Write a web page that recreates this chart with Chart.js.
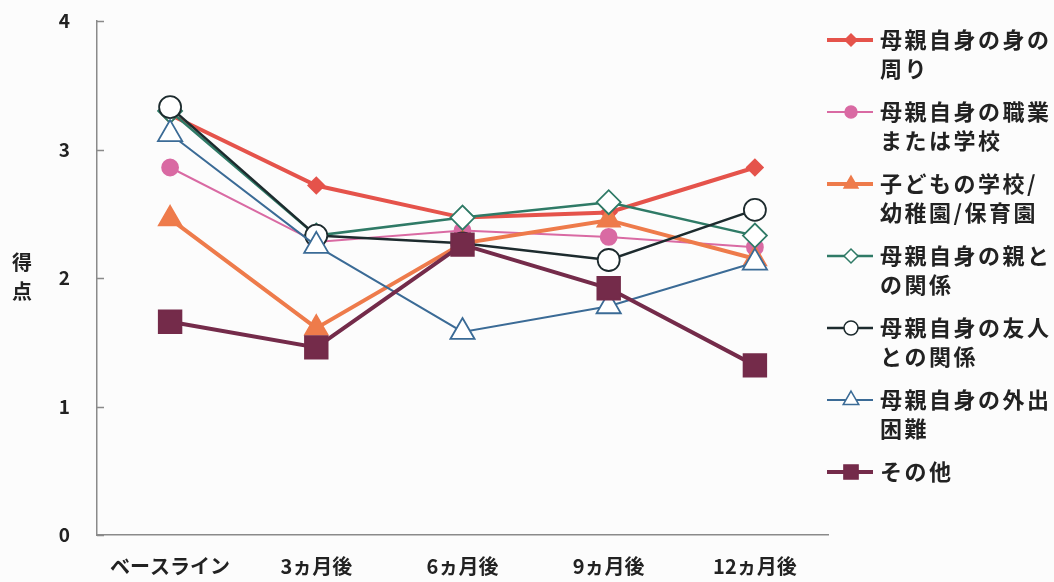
<!DOCTYPE html>
<html>
<head>
<meta charset="utf-8">
<script src="https://cdn.jsdelivr.net/npm/chart.js@4.4.1/dist/chart.umd.min.js"></script>
<style>
  html, body { margin: 0; padding: 0; background: #fcfcfc; }
  #wrap { width: 1054px; height: 582px; position: relative; }
</style>
</head>
<body>
<div id="wrap"><canvas id="c" width="1054" height="582"></canvas></div>
<script>
// ---- data ----
const categories = ['ベースライン', '3ヵ月後', '6ヵ月後', '9ヵ月後', '12ヵ月後'];
const yTicks = [0, 1, 2, 3, 4];
const yTitle = ['得', '点'];

const legendLines1 = ['母親自身の身の', '周り'];
const legendLines2 = ['母親自身の職業', 'または学校'];
const legendLines3 = ['子どもの学校/', '幼稚園/保育園'];
const legendLines4 = ['母親自身の親と', 'の関係'];
const legendLines5 = ['母親自身の友人', 'との関係'];
const legendLines6 = ['母親自身の外出', '困難'];
const legendLines7 = ['その他'];

const selfCare     = [3.27, 2.72, 2.47, 2.51, 2.86];
const selfWork     = [2.86, 2.28, 2.37, 2.32, 2.24];
const childSchool  = [2.46, 1.61, 2.27, 2.45, 2.15];
const parentRel    = [3.30, 2.33, 2.47, 2.59, 2.33];
const friendRel    = [3.33, 2.33, 2.27, 2.14, 2.53];
const goingOut     = [3.12, 2.25, 1.58, 1.78, 2.12];
const others       = [1.66, 1.46, 2.26, 1.92, 1.32];

// ---- styles ----
const FONT = '"Noto Sans CJK JP", "Noto Sans", sans-serif';
const series = [
  { lines: legendLines1, data: selfCare,    color: '#e5534b', width: 4,   style: 'rectRot',  r: 8,  fill: '#e5534b', lr: 6 },
  { lines: legendLines2, data: selfWork,    color: '#d96aa3', width: 2,   style: 'circle',   r: 8,  fill: '#d96aa3', lr: 6 },
  { lines: legendLines3, data: childSchool, color: '#ee7b4b', width: 4,   style: 'triangle', r: 13, fill: '#ee7b4b', lr: 8 },
  { lines: legendLines4, data: parentRel,   color: '#2f7a66', width: 2.5, style: 'rectRot',  r: 12, fill: '#ffffff', lr: 7 },
  { lines: legendLines5, data: friendRel,   color: '#1d2b2e', width: 2.5, style: 'circle',   r: 11, fill: '#ffffff', lr: 7 },
  { lines: legendLines6, data: goingOut,    color: '#3b6b96', width: 2,   style: 'triangle', r: 14, fill: '#ffffff', lr: 9 },
  { lines: legendLines7, data: others,      color: '#742b4a', width: 4,   style: 'rect',     r: 16, fill: '#742b4a', lr: 10 }
];

function drawMarker(ctx, style, x, y, r, fill, stroke, lw) {
  ctx.beginPath();
  if (style === 'circle') {
    ctx.arc(x, y, r, 0, Math.PI * 2);
  } else if (style === 'rectRot') {
    ctx.moveTo(x - r, y); ctx.lineTo(x, y - r); ctx.lineTo(x + r, y); ctx.lineTo(x, y + r);
  } else if (style === 'triangle') {
    for (let k = 0; k < 3; k++) {
      const a = k * 2 * Math.PI / 3;
      const px = x + Math.sin(a) * r, py = y - Math.cos(a) * r;
      if (k === 0) ctx.moveTo(px, py); else ctx.lineTo(px, py);
    }
  } else {
    const s = Math.SQRT1_2 * r;
    ctx.rect(x - s, y - s, 2 * s, 2 * s);
  }
  ctx.closePath();
  ctx.fillStyle = fill; ctx.fill();
  ctx.strokeStyle = stroke; ctx.lineWidth = lw; ctx.stroke();
}

const extras = {
  id: 'extras',
  afterDraw(chart) {
    const ctx = chart.ctx;
    const area = chart.chartArea;
    const ys = chart.scales.y;
    ctx.save();
    // inward y ticks
    ctx.strokeStyle = '#8a8a8a'; ctx.lineWidth = 1.5;
    yTicks.forEach(v => {
      const py = Math.round(ys.getPixelForValue(v)) + 0.5;
      ctx.beginPath(); ctx.moveTo(area.left, py); ctx.lineTo(area.left + 7, py); ctx.stroke();
    });
    // y title (stacked)
    ctx.fillStyle = '#222';
    ctx.font = 'bold 20px ' + FONT;
    ctx.textAlign = 'center'; ctx.textBaseline = 'middle';
    yTitle.forEach((ch, j) => ctx.fillText(ch, 22, 262 + j * 29));
    // legend
    ctx.textAlign = 'left';
    ctx.font = 'bold 22px ' + FONT;
    try { ctx.letterSpacing = '2.5px'; } catch (e) {}
    let y = 40;
    series.forEach(s => {
      ctx.strokeStyle = s.color; ctx.lineWidth = s.width;
      ctx.beginPath(); ctx.moveTo(827, y); ctx.lineTo(873, y); ctx.stroke();
      drawMarker(ctx, s.style, 851, y, s.lr, s.fill, s.color, 1.5);
      ctx.fillStyle = '#222';
      s.lines.forEach((t, j) => ctx.fillText(t, 880, y + j * 28.5));
      y += 72;
    });
    ctx.restore();
  }
};

new Chart(document.getElementById('c'), {
  type: 'line',
  data: {
    labels: categories,
    datasets: series.map((s, i) => ({
      label: s.lines.join(''),
      data: s.data,
      borderColor: s.color,
      borderWidth: s.width,
      backgroundColor: s.fill,
      pointStyle: s.style,
      pointRadius: s.r,
      pointHoverRadius: s.r,
      pointBackgroundColor: s.fill,
      pointBorderColor: s.color,
      pointBorderWidth: 1.8,
      tension: 0,
      fill: false,
      order: 6 - i
    }))
  },
  options: {
    responsive: false,
    animation: false,
    devicePixelRatio: 1,
    layout: { padding: { left: 0, right: 226, top: 21, bottom: 0 } },
    plugins: { legend: { display: false }, tooltip: { enabled: false } },
    scales: {
      x: {
        offset: true,
        grid: { display: false, drawTicks: true, tickLength: 19 },
        border: { display: true, color: '#8a8a8a', width: 1.5 },
        ticks: { color: '#222', font: { family: FONT, size: 20, weight: 'bold' }, padding: 0, maxRotation: 0 },
        afterFit(scale) { scale.height = 47; }
      },
      y: {
        min: 0, max: 4,
        grid: { display: false, drawTicks: true, tickLength: 27 },
        border: { display: true, color: '#8a8a8a', width: 1.5 },
        ticks: { stepSize: 1, color: '#222', font: { family: FONT, size: 19, weight: 'bold' }, padding: 0 },
        afterFit(scale) { scale.width = 97; }
      }
    }
  },
  plugins: [extras]
});
</script>
</body>
</html>
